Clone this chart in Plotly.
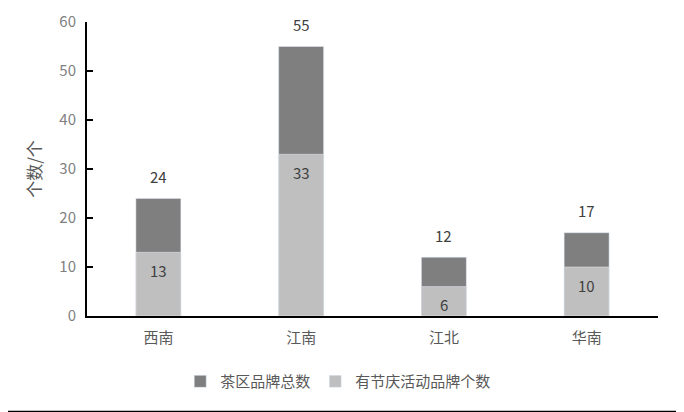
import plotly.graph_objects as go

regions = ['西南', '江南', '江北', '华南']
total_brands = [24, 55, 12, 17]
festival_brands = [13, 33, 6, 10]

FONT = 'Noto Sans CJK SC'

fig = go.Figure()

fig.add_trace(go.Bar(
    x=regions, y=total_brands, name='茶区品牌总数',
    marker={'color': '#7f7f7f'}, width=0.315,
))
fig.add_trace(go.Bar(
    x=regions, y=festival_brands, name='有节庆活动品牌个数',
    marker={'color': '#bfbfbf'}, width=0.315,
))

# value labels
for r, v in zip(regions, total_brands):
    fig.add_annotation(x=r, y=v, text=str(v), showarrow=False,
                       yshift=22, font={'size': 15, 'color': '#404040', 'family': FONT})
for r, v in zip(regions, festival_brands):
    fig.add_annotation(x=r, y=v, text=str(v), showarrow=False,
                       yshift=-18, font={'size': 15, 'color': '#404040', 'family': FONT})

# separator line at the bottom of the image
fig.add_shape(type='line', xref='paper', yref='paper',
              x0=-0.16, x1=1.05, y0=-0.326, y1=-0.326,
              line={'color': 'black', 'width': 2})

fig.update_layout(
    width=684, height=412,
    margin={'l': 79, 'r': 34, 't': 14, 'b': 104},
    barmode='overlay',
    plot_bgcolor='white', paper_bgcolor='white',
    font={'family': FONT, 'color': '#595959'},
    legend={'orientation': 'h', 'x': 0.44, 'xanchor': 'center', 'y': -0.167,
            'yanchor': 'top', 'font': {'size': 15, 'color': '#595959'},
            'traceorder': 'normal', 'itemwidth': 30},
    showlegend=True,
)
fig.update_xaxes(
    showline=True, linecolor='black', linewidth=2, automargin=False,
    tickfont={'size': 15, 'color': '#595959'},
    ticks='outside', ticklen=7, tickcolor='rgba(0,0,0,0)',
)
fig.update_yaxes(
    range=[0, 60], dtick=10, showgrid=False, zeroline=False, automargin=False,
    showline=True, linecolor='black', linewidth=2,
    ticks='inside', ticklen=6, tickcolor='black', tickwidth=2,
    ticklabelstandoff=6,
    tickfont={'size': 15, 'color': '#7f7f7f'},
    title={'text': '个数/个', 'font': {'size': 17, 'color': '#595959'}, 'standoff': 13},
)

fig.write_html('out.html')
